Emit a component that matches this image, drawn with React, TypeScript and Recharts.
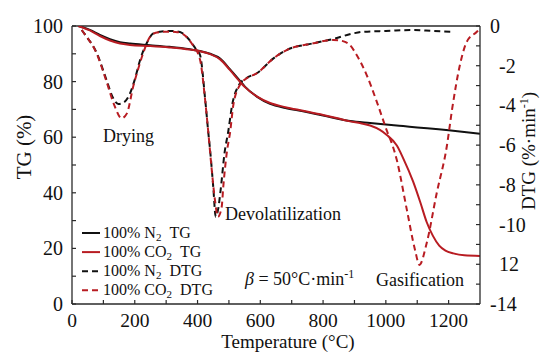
import React from 'react';
import { LineChart, Line, XAxis, YAxis, ReferenceLine, Legend } from 'recharts';

// ---------- data ----------
const n2TgTemp = [20, 57, 89, 121, 153, 185, 249, 310, 376, 408, 440, 472, 503, 530, 551, 590, 631, 680, 736, 800, 886, 950, 1000, 1055, 1100, 1150, 1200, 1250, 1300];
const n2TgValue = [100, 98.6, 96.8, 95.3, 94.2, 93.7, 93.1, 92.5, 91.6, 91.0, 90.0, 88.3, 84.5, 81.0, 78.2, 74.5, 72.0, 70.5, 69.3, 67.8, 65.8, 65.1, 64.6, 64.0, 63.5, 63.0, 62.5, 61.9, 61.2];

const co2TgTemp = [20, 57, 89, 121, 153, 185, 249, 310, 376, 408, 440, 472, 503, 530, 551, 590, 631, 680, 736, 800, 850, 886, 920, 950, 981, 1003, 1035, 1055, 1087, 1110, 1130, 1150, 1170, 1190, 1215, 1250, 1300];
const co2TgValue = [100, 98.4, 96.4, 94.8, 93.7, 93.2, 92.8, 92.3, 91.5, 90.9, 89.9, 88.0, 84.2, 80.6, 78.0, 74.6, 72.3, 70.8, 69.5, 68.0, 66.7, 65.7, 65.0, 64.2, 62.6, 60.8, 57.0, 52.5, 44.0, 36.5, 29.5, 24.5, 21.0, 19.2, 18.2, 17.5, 17.3];

const n2DtgTemp = [31, 40, 79, 110, 130, 148, 165, 180, 200, 217, 238, 259, 280, 320, 344, 365, 397, 408, 424, 434, 440, 450, 458, 466, 474, 486, 498, 510, 532, 555, 589, 642, 684, 769, 833, 897, 928, 1000, 1088, 1150, 1215];
const n2DtgValue = [-0.2, -0.4, -1.37, -2.72, -3.6, -3.93, -3.85, -3.56, -2.7, -1.71, -0.87, -0.37, -0.29, -0.25, -0.3, -0.54, -1.21, -1.46, -3.64, -5.32, -6.24, -8.09, -9.6, -9.2, -8.2, -6.4, -5.3, -4.0, -2.97, -2.63, -2.38, -1.63, -1.21, -0.87, -0.65, -0.37, -0.29, -0.25, -0.2, -0.25, -0.29];

const co2DtgTemp = [31, 40, 79, 110, 135, 158, 175, 195, 212, 227, 249, 270, 302, 330, 350, 381, 408, 424, 434, 445, 455, 465, 477, 482, 493, 504, 514, 535, 557, 589, 642, 684, 769, 833, 850, 870, 885, 907, 939, 971, 997, 1035, 1067, 1093, 1107, 1130, 1162, 1194, 1212, 1236, 1258, 1290, 1300];
const co2DtgValue = [-0.2, -0.4, -1.4, -2.8, -4.0, -4.65, -4.4, -3.05, -2.1, -1.36, -0.54, -0.33, -0.29, -0.3, -0.37, -0.87, -1.7, -3.7, -5.3, -7.2, -8.7, -9.6, -9.1, -8.1, -6.4, -5.32, -3.98, -2.97, -2.63, -2.38, -1.63, -1.21, -0.87, -0.7, -0.72, -0.8, -0.95, -1.46, -2.47, -3.81, -5.0, -6.75, -9.26, -11.28, -12.03, -10.94, -8.42, -6.08, -4.1, -1.96, -0.79, -0.29, -0.12];

// ---------- ticks ----------
const xTicks = [0, 100, 200, 300, 400, 500, 600, 700, 800, 900, 1000, 1100, 1200];
const xLabeledTicks = [0, 200, 400, 600, 800, 1000, 1200];
const leftTicks = [0, 10, 20, 30, 40, 50, 60, 70, 80, 90, 100];
const leftLabeledTicks = [0, 20, 40, 60, 80, 100];
const rightTicks = [0, -1, -2, -3, -4, -5, -6, -7, -8, -9, -10, -11, -12, -13, -14];
const rightLabelValues = [0, -2, -4, -6, -8, -10, -12, -14];
const rightLabelTexts = ['0', '-2', '-4', '-6', '-8', '-10', '12', '-14'];

const legendPrefix = ['100% N', '100% CO', '100% N', '100% CO'];
const legendSuffix = ['TG', 'TG', 'DTG', 'DTG'];

// ---------- styles ----------
const FONT = '"Liberation Serif", "DejaVu Serif", serif';
const AXIS = '#2a2a2a';
const BLACK = '#111111';
const RED = '#b81c22';
const legendColors = [BLACK, RED, BLACK, RED];
const legendDashed = [false, false, true, true];
const rightLabelDx = [10, 19, 19, 19, 19, 19, 19, 10];

const zip = (t: number[], v: number[]) => t.map((x, i) => ({ t: x, v: v[i] }));
const n2Tg = zip(n2TgTemp, n2TgValue);
const co2Tg = zip(co2TgTemp, co2TgValue);
const n2Dtg = zip(n2DtgTemp, n2DtgValue);
const co2Dtg = zip(co2DtgTemp, co2DtgValue);

const LeftTick = (props: any) => {
  const { x, y, payload } = props;
  const v = payload.value;
  return (
    <g>
      <line x1={x} y1={y} x2={x + 4} y2={y} stroke={AXIS} strokeWidth={1.2} />
      {leftLabeledTicks.includes(v) && (
        <text x={x - 9} y={y} dy="0.35em" textAnchor="end" fontSize={20} fontFamily={FONT} fill={BLACK}>
          {String(v)}
        </text>
      )}
    </g>
  );
};

const RightTick = (props: any) => {
  const { x, y, payload } = props;
  const idx = rightLabelValues.indexOf(payload.value);
  return (
    <g>
      <line x1={x} y1={y} x2={x - 4} y2={y} stroke={AXIS} strokeWidth={1.2} />
      {idx >= 0 && (
        <text x={x + rightLabelDx[idx]} y={y} dy="0.35em" textAnchor="start" fontSize={20} fontFamily={FONT} fill={BLACK}>
          {rightLabelTexts[idx]}
        </text>
      )}
    </g>
  );
};

const BottomTick = (props: any) => {
  const { x, y, payload } = props;
  const v = payload.value;
  return (
    <g>
      <line x1={x} y1={y} x2={x} y2={y - 4} stroke={AXIS} strokeWidth={1.2} />
      {xLabeledTicks.includes(v) && (
        <text x={x} y={y + 23} textAnchor="middle" fontSize={19.5} fontFamily={FONT} fill={BLACK}>
          {String(v)}
        </text>
      )}
    </g>
  );
};

const LegendContent = () => (
  <svg width={160} height={80} style={{ display: 'block' }}>
    {legendPrefix.map((p, i) => {
      const base = 16 + i * 19.1;
      return (
        <g key={i}>
          <line
            x1={4}
            x2={22}
            y1={base - 5}
            y2={base - 5}
            stroke={legendColors[i]}
            strokeWidth={2}
            strokeDasharray={legendDashed[i] ? '6 4' : undefined}
          />
          <text x={25} y={base} fontSize={16} fontFamily={FONT} fill={BLACK}>
            {p}
            <tspan dy={3} fontSize={11}>2</tspan>
            <tspan dy={-3} dx={8}>{legendSuffix[i]}</tspan>
          </text>
        </g>
      );
    })}
  </svg>
);

export default function App() {
  return (
    <div style={{ position: 'absolute', left: 0, top: 0, width: 541, height: 353, background: '#ffffff' }}>
      <LineChart width={541} height={353} margin={{ top: 26, right: 0, bottom: 0, left: 0 }}>
        <XAxis
          xAxisId="x"
          type="number"
          dataKey="t"
          domain={[0, 1300]}
          ticks={xTicks}
          interval={0}
          height={49}
          tickSize={0}
          tickMargin={0}
          tickLine={false}
          tick={BottomTick}
          axisLine={{ stroke: AXIS, strokeWidth: 1.3 }}
          allowDataOverflow
        />
        <YAxis
          yAxisId="left"
          orientation="left"
          domain={[0, 100]}
          ticks={leftTicks}
          interval={0}
          width={72}
          tickSize={0}
          tickMargin={0}
          tickLine={false}
          tick={LeftTick}
          axisLine={{ stroke: AXIS, strokeWidth: 1.3 }}
          allowDataOverflow
        />
        <YAxis
          yAxisId="right"
          orientation="right"
          domain={[-14, 0]}
          ticks={rightTicks}
          interval={0}
          width={61}
          tickSize={0}
          tickMargin={0}
          tickLine={false}
          tick={RightTick}
          axisLine={{ stroke: AXIS, strokeWidth: 1.3 }}
          allowDataOverflow
        />
        <ReferenceLine xAxisId="x" yAxisId="left" y={100} stroke={AXIS} strokeWidth={1.3} />
        <Line xAxisId="x" yAxisId="left" data={n2Tg} dataKey="v" type="monotone" stroke={BLACK} strokeWidth={2} dot={false} activeDot={false} isAnimationActive={false} />
        <Line xAxisId="x" yAxisId="right" data={n2Dtg} dataKey="v" type="monotone" stroke={BLACK} strokeWidth={2} strokeDasharray="6 4" dot={false} activeDot={false} isAnimationActive={false} />
        <Line xAxisId="x" yAxisId="left" data={co2Tg} dataKey="v" type="monotone" stroke={RED} strokeWidth={2} dot={false} activeDot={false} isAnimationActive={false} />
        <Line xAxisId="x" yAxisId="right" data={co2Dtg} dataKey="v" type="monotone" stroke={RED} strokeWidth={2} strokeDasharray="6 4" dot={false} activeDot={false} isAnimationActive={false} />
        <Legend
          layout="horizontal"
          verticalAlign="middle"
          align="center"
          content={LegendContent}
          wrapperStyle={{ position: 'absolute', left: 78, top: 222, width: 160, height: 80 }}
        />
      </LineChart>
      <svg
        width={541}
        height={353}
        style={{ position: 'absolute', left: 0, top: 0, pointerEvents: 'none' }}
        fontFamily={FONT}
        fill={BLACK}
      >
        <text transform="translate(31,147) rotate(-90)" textAnchor="middle" fontSize={21}>TG (%)</text>
        <text transform="translate(535,151) rotate(-90)" textAnchor="middle" fontSize={19}>
          DTG (%·min<tspan dy={-7} fontSize={12}>-1</tspan><tspan dy={7}>)</tspan>
        </text>
        <text x={288} y={348} textAnchor="middle" fontSize={19}>Temperature (°C)</text>
        <text x={103} y={142} fontSize={18}>Drying</text>
        <text x={225} y={220} fontSize={18}>Devolatilization</text>
        <text x={376} y={286} fontSize={18}>Gasification</text>
        <text x={245} y={285} fontSize={18}>
          <tspan fontStyle="italic">β</tspan> = 50°C·min<tspan dy={-7} fontSize={12}>-1</tspan>
        </text>
      </svg>
    </div>
  );
}
